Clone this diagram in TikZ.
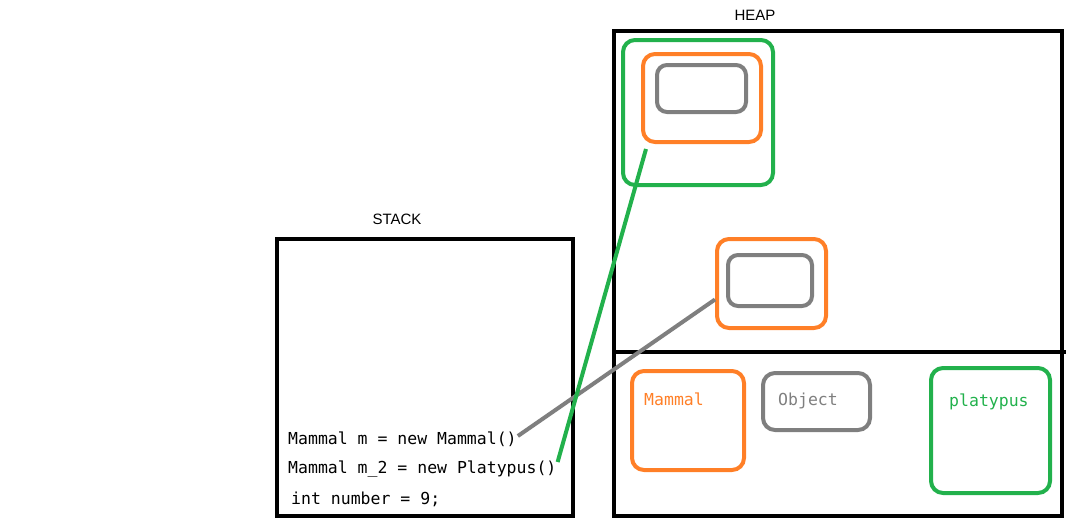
\documentclass[tikz,border=0pt]{standalone}
\usepackage{fontspec}
\setmainfont{Liberation Sans}
\newfontfamily\codefont{DejaVu Sans Mono}
\usepackage{xcolor}
\definecolor{paintorange}{HTML}{FF7F27}
\definecolor{paintgreen}{HTML}{22B14C}
\definecolor{paintgray}{HTML}{7F7F7F}

\begin{document}
\begin{tikzpicture}[x=1pt,y=-1pt]
	\tikzstyle{every node}+=[inner sep=0pt]
	\tikzstyle{area}=[draw=black, line width=4pt, rectangle]
	\tikzstyle{obj}=[draw, line width=4pt, rectangle, rounded corners=12pt]
	\tikzstyle{code}=[anchor=west, inner sep=1pt, font=\codefont\fontsize{16.5}{18}\selectfont]
	\tikzstyle{title}=[font=\fontsize{15}{17}\selectfont]
	\tikzstyle{link}=[line width=4pt]
	\useasboundingbox (0,0) rectangle (1081,530);
	\node [title] (stacklabel) at (397,219) {STACK};
	\node [title] (heaplabel) at (755,15) {HEAP};
	\node [area, minimum width=296pt, minimum height=277pt] (stack) at (425,377.5) {};
	\node [area, minimum width=448pt, minimum height=485pt] (heap) at (838,273.5) {};
	\coordinate (divL) at (614,352);
	\coordinate (divR) at (1066,352);
	\draw [line width=4pt] (divL) -- (divR);
	\node [obj, draw=paintgreen, minimum width=150pt, minimum height=145pt] (platyA) at (698,112.5) {};
	\node [obj, draw=paintorange, minimum width=118pt, minimum height=88pt] (mammalA) at (702,98) {};
	\node [obj, draw=paintgray, rounded corners=10pt, minimum width=89pt, minimum height=47pt] (objectA) at (701.5,88.5) {};
	\node [obj, draw=paintorange, minimum width=109pt, minimum height=89pt] (mammalB) at (771.5,283.5) {};
	\node [obj, draw=paintgray, rounded corners=10pt, minimum width=84pt, minimum height=51pt] (objectB) at (770,280.5) {};
	\node [obj, draw=paintorange, minimum width=112pt, minimum height=99pt] (mammalclass) at (688,420.5) {};
	\node [obj, draw=paintgray, minimum width=107pt, minimum height=57pt] (objectclass) at (816.5,401.5) {};
	\node [obj, draw=paintgreen, minimum width=119pt, minimum height=125pt] (platyclass) at (990.5,430.5) {};
	\node [code, text=paintorange] (mammaltext) at (643,399) {Mammal};
	\node [code, text=paintgray] (objecttext) at (777,401) {Object};
	\node [code, text=paintgreen] (platytext) at (948,402) {platypus};
	\node [code] (mline) at (287,439) {Mammal m = new Mammal()};
	\node [code] (pline) at (287,469) {Mammal m\_2 = new Platypus()};
	\node [code] (iline) at (290,499) {int number = 9;};
	\draw [link, paintgray] ([yshift=3pt]mline.east) -- ([yshift=-16pt]mammalB.west);
	\draw [link, paintgreen] ([yshift=7pt]pline.east) -- ([shift={(5pt,-5pt)}]mammalA.south west);
\end{tikzpicture}
\end{document}
